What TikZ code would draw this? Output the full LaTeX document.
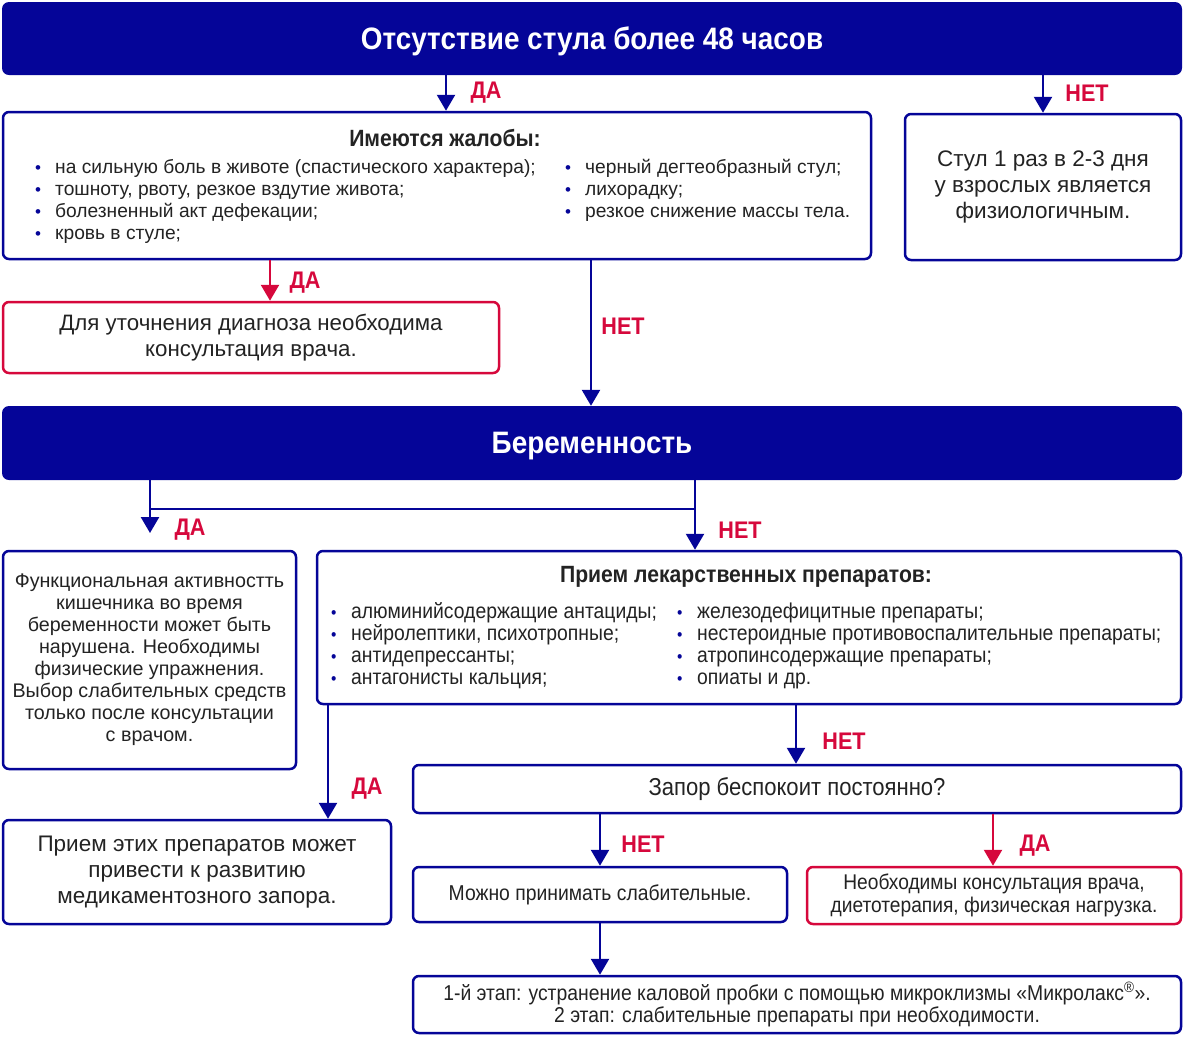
\documentclass[tikz,border=0pt]{standalone}
\usepackage{fontspec}
\setmainfont{Liberation Sans}
\newfontfamily\cond[FakeStretch=0.9]{Liberation Sans}
\usetikzlibrary{arrows.meta,calc}
\definecolor{dblue}{RGB}{5,5,152}
\definecolor{dred}{RGB}{214,8,60}
\definecolor{txt}{RGB}{35,35,35}
\newcommand{\bl}{\makebox[20pt][l]{\textcolor{dblue}{\fontsize{17}{13}\selectfont\textbullet}}}
\tikzset{
  box/.style={draw=dblue, line width=2.5pt, rounded corners=6pt, fill=white, inner sep=0pt, text=txt},
  rbox/.style={box, draw=dred},
  head/.style={fill=dblue, rounded corners=7pt, inner sep=0pt, text=white, text depth=0pt, font=\cond\bfseries\fontsize{31}{34}\selectfont},
  arr/.style={line width=2.5pt, draw=dblue, -{Triangle[width=18pt,length=16pt]}},
  rarr/.style={arr, draw=dred},
  lbl/.style={text=dred, font=\cond\bfseries\fontsize{24}{26}\selectfont, inner sep=0pt},
  lst/.style={align=left, inner sep=0pt, text=txt, anchor=west},
  ttl/.style={inner sep=0pt, text=txt, font=\cond\bfseries\fontsize{23.5}{26}\selectfont},
}
\begin{document}
\begin{tikzpicture}[x=1pt,y=-1pt]
\useasboundingbox (0,0) rectangle (1184,1037);
% boxes
\node[head, minimum width=1180, minimum height=73] (top) at (592,38.5) {Отсутствие стула более 48 часов};
\node[box, minimum width=868, minimum height=147] (b1) at (437,185.5) {};
\node[box, minimum width=276, minimum height=146, align=center, font=\fontsize{22.5}{26}\selectfont] (b2) at (1043,187) {Стул 1 раз в 2-3 дня\\у взрослых является\\физиологичным.};
\node[rbox, minimum width=496, minimum height=71, align=center, font=\fontsize{22.3}{25.5}\selectfont] (r1) at (251,337.5) {Для уточнения диагноза необходима\\консультация врача.};
\node[head, minimum width=1180, minimum height=74] (preg) at (592,443) {Беременность};
\node[box, minimum width=293, minimum height=218, align=center, font=\fontsize{19.7}{22}\selectfont] (b3) at (149.5,660) {Функциональная активностть\\кишечника во время\\беременности может быть\\нарушена. Необходимы\\физические упражнения.\\Выбор слабительных средств\\только после консультации\\с врачом.};
\node[box, minimum width=864, minimum height=153] (med) at (749,627.5) {};
\node[box, minimum width=768, minimum height=48, font=\cond\fontsize{24.5}{26}\selectfont] (zap) at (797,789) {Запор беспокоит постоянно?};
\node[box, minimum width=388, minimum height=104, align=center, font=\fontsize{22.5}{26}\selectfont] (b4) at (197,872) {Прием этих препаратов может\\привести к развитию\\медикаментозного запора.};
\node[box, minimum width=374, minimum height=55, font=\cond\fontsize{21.5}{23}\selectfont] (mozh) at (600,894.5) {Можно принимать слабительные.};
\node[rbox, minimum width=374, minimum height=57, align=center, font=\cond\fontsize{21.3}{23}\selectfont] (r2) at (994,895.5) {Необходимы консультация врача,\\диетотерапия, физическая нагрузка.};
\node[box, minimum width=768, minimum height=57, align=center, font=\cond\fontsize{21.5}{22}\selectfont] (last) at (797,1004.5) {1-й этап: устранение каловой пробки с помощью микроклизмы «Микролакс\textsuperscript{®}».\\2 этап: слабительные препараты при необходимости.};
% texts in b1
\node[ttl] (t1) at (445,138) {Имеются жалобы:};
\node[lst, font=\fontsize{19.2}{22}\selectfont] (l1) at (35,201.5) {\bl на сильную боль в животе (спастического характера);\\\bl тошноту, рвоту, резкое вздутие живота;\\\bl болезненный акт дефекации;\\\bl кровь в стуле;};
\node[lst, font=\fontsize{19.2}{22}\selectfont] (l2) at (565,190.5) {\bl черный дегтеобразный стул;\\\bl лихорадку;\\\bl резкое снижение массы тела.};
% texts in med
\node[ttl] (t2) at (746,577) {Прием лекарственных препаратов:};
\node[lst, font=\cond\fontsize{21.5}{22}\selectfont] (l3) at (331,646) {\bl алюминийсодержащие антациды;\\\bl нейролептики, психотропные;\\\bl антидепрессанты;\\\bl антагонисты кальция;};
\node[lst, font=\cond\fontsize{21.5}{22}\selectfont] (l4) at (677,646) {\bl железодефицитные препараты;\\\bl нестероидные противовоспалительные препараты;\\\bl атропинсодержащие препараты;\\\bl опиаты и др.};
% coordinates for connector columns
\coordinate (c1) at (446,0);
\coordinate (c2) at (1043,0);
\coordinate (c3) at (270,0);
\coordinate (c4) at (591,0);
\coordinate (c5) at (150,509);
\coordinate (c5e) at (150,533);
\coordinate (c6) at (695,509);
\coordinate (c7) at (328,0);
\coordinate (c8) at (796,0);
\coordinate (c9) at (600,0);
\coordinate (c10) at (993,0);
% connectors
\draw[arr] (top.south -| c1) -- (b1.north -| c1);
\draw[arr] (top.south -| c2) -- (b2.north -| c2);
\draw[rarr] (b1.south -| c3) -- (r1.north -| c3);
\draw[arr] (b1.south -| c4) -- (preg.north -| c4);
\draw[arr] (preg.south -| c5) -- (c5e);
\draw[arr] (preg.south -| c6) -- (med.north -| c6);
\draw[line width=2.5pt, draw=dblue] (c5) -- (c6);
\draw[arr] (med.south -| c7) -- (b4.north -| c7);
\draw[arr] (med.south -| c8) -- (zap.north -| c8);
\draw[arr] (zap.south -| c9) -- (mozh.north -| c9);
\draw[rarr] (zap.south -| c10) -- (r2.north -| c10);
\draw[arr] (mozh.south -| c9) -- (last.north -| c9);
% labels
\node[lbl] (y1) at (486,93) {ДА};
\node[lbl] (n1) at (1087,93) {НЕТ};
\node[lbl] (y2) at (305,283) {ДА};
\node[lbl] (n2) at (623,326) {НЕТ};
\node[lbl] (y3) at (190,530) {ДА};
\node[lbl] (n3) at (740,530) {НЕТ};
\node[lbl] (y4) at (367,789) {ДА};
\node[lbl] (n4) at (844,741) {НЕТ};
\node[lbl] (n5) at (643,844) {НЕТ};
\node[lbl] (y5) at (1035,846) {ДА};
\end{tikzpicture}
\end{document}
